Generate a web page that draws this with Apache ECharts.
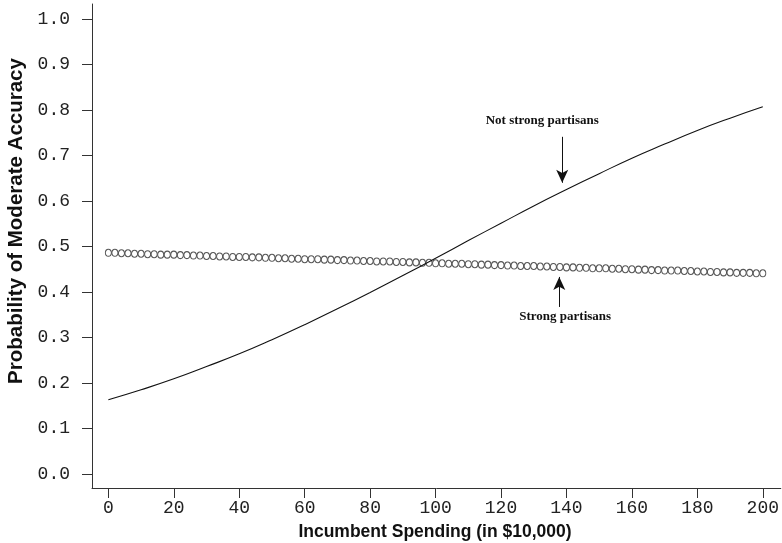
<!DOCTYPE html>
<html>
<head>
<meta charset="utf-8">
<script src="https://cdn.jsdelivr.net/npm/echarts@6/dist/echarts.min.js"></script>
<style>
  html, body { margin: 0; padding: 0; background: #fff; }
  #main { width: 782px; height: 543px; }
</style>
</head>
<body>
<div id="main"></div>
<script>
// spending (in $10,000) for the solid curve
const spendingCoarse = [0, 10, 20, 30, 40, 50, 60, 70, 80, 90, 100, 110, 120, 130, 140, 150, 160, 170, 180, 190, 200];
const notStrongValues = [0.163, 0.185, 0.209, 0.236, 0.264, 0.295, 0.328, 0.363, 0.399, 0.436, 0.474,
  0.513, 0.551, 0.589, 0.625, 0.660, 0.694, 0.725, 0.755, 0.782, 0.807];

// spending for the circle series
const spendingFine = [0, 2, 4, 6, 8, 10, 12, 14, 16, 18, 20, 22, 24, 26, 28, 30, 32, 34, 36, 38, 40,
  42, 44, 46, 48, 50, 52, 54, 56, 58, 60, 62, 64, 66, 68, 70, 72, 74, 76, 78, 80,
  82, 84, 86, 88, 90, 92, 94, 96, 98, 100, 102, 104, 106, 108, 110, 112, 114, 116, 118, 120,
  122, 124, 126, 128, 130, 132, 134, 136, 138, 140, 142, 144, 146, 148, 150, 152, 154, 156, 158, 160,
  162, 164, 166, 168, 170, 172, 174, 176, 178, 180, 182, 184, 186, 188, 190, 192, 194, 196, 198, 200];
const strongValues = [0.486, 0.486, 0.485, 0.485, 0.484, 0.484, 0.483, 0.483, 0.482, 0.482, 0.482,
  0.481, 0.481, 0.480, 0.480, 0.479, 0.479, 0.478, 0.478, 0.477, 0.477,
  0.477, 0.476, 0.476, 0.475, 0.475, 0.474, 0.474, 0.473, 0.473, 0.472,
  0.472, 0.472, 0.471, 0.471, 0.470, 0.470, 0.469, 0.469, 0.468, 0.468,
  0.467, 0.467, 0.467, 0.466, 0.466, 0.465, 0.465, 0.464, 0.464, 0.463,
  0.463, 0.462, 0.462, 0.462, 0.461, 0.461, 0.460, 0.460, 0.459, 0.459,
  0.458, 0.458, 0.457, 0.457, 0.457, 0.456, 0.456, 0.455, 0.455, 0.454,
  0.454, 0.453, 0.453, 0.452, 0.452, 0.452, 0.451, 0.451, 0.450, 0.450,
  0.449, 0.449, 0.448, 0.448, 0.447, 0.447, 0.447, 0.446, 0.446, 0.445,
  0.445, 0.444, 0.444, 0.443, 0.443, 0.442, 0.442, 0.442, 0.441, 0.441];

const xTicks = [0, 20, 40, 60, 80, 100, 120, 140, 160, 180, 200];
const yTicks = [0, 0.1, 0.2, 0.3, 0.4, 0.5, 0.6, 0.7, 0.8, 0.9, 1.0];

// annotations: [label, text x, text y, arrow x, arrow from y, arrow to y]
const notStrongNote = ['Not strong partisans', 132.6, 0.776, 138.7, 0.741, 0.640];
const strongNote = ['Strong partisans', 139.6, 0.345, 137.8, 0.367, 0.433];

const ink = '#111';
const tickFont = { fontFamily: 'Liberation Mono', fontSize: 18, color: '#222' };
const noteFont = { fontFamily: 'Liberation Serif', fontSize: 13, fontWeight: 'bold', color: ink };

const chart = echarts.init(document.getElementById('main'));

function note(n) {
  return {
    markPoint: {
      silent: true,
      symbol: 'circle',
      symbolSize: 0,
      data: [{ coord: [n[1], n[2]], value: n[0] }],
      label: Object.assign({ show: true, position: 'inside', formatter: '{c}' }, noteFont)
    },
    markLine: {
      silent: true,
      symbol: ['none', 'arrow'],
      symbolSize: [9, 13],
      label: { show: false },
      lineStyle: { color: ink, width: 1, type: 'solid' },
      data: [[{ coord: [n[3], n[4]] }, { coord: [n[3], n[5]] }]]
    }
  };
}

const option = {
  animation: false,
  backgroundColor: '#fff',
  grid: { left: 92, right: 0, top: 4, bottom: 55 },
  xAxis: {
    type: 'value',
    min: -5,
    max: 205.5,
    axisLine: { onZero: false, lineStyle: { color: '#333', width: 1 } },
    axisTick: { customValues: xTicks, length: 10, lineStyle: { color: '#333' } },
    axisLabel: Object.assign({ customValues: xTicks, margin: 11 }, tickFont),
    splitLine: { show: false }
  },
  yAxis: {
    type: 'value',
    min: -0.031,
    max: 1.033,
    axisLine: { show: true, onZero: false, lineStyle: { color: '#333', width: 1 } },
    axisTick: { show: true, customValues: yTicks, length: 10, lineStyle: { color: '#333' } },
    axisLabel: Object.assign({ customValues: yTicks, margin: 22, formatter: v => v.toFixed(1) }, tickFont),
    splitLine: { show: false }
  },
  graphic: [
    {
      type: 'text', x: 16, y: 221, rotation: Math.PI / 2,
      style: { text: 'Probability of Moderate Accuracy', font: 'bold 20.5px "Liberation Sans"', fill: '#111', align: 'center', verticalAlign: 'middle' }
    },
    {
      type: 'text', x: 435, y: 532,
      style: { text: 'Incumbent Spending (in $10,000)', font: 'bold 17.5px "Liberation Sans"', fill: '#111', align: 'center', verticalAlign: 'middle' }
    }
  ],
  series: [
    Object.assign({
      name: 'Not strong partisans',
      type: 'line',
      smooth: true,
      showSymbol: false,
      lineStyle: { color: ink, width: 1.1 },
      data: spendingCoarse.map((x, i) => [x, notStrongValues[i]])
    }, note(notStrongNote)),
    Object.assign({
      name: 'Strong partisans',
      type: 'scatter',
      symbol: 'circle',
      symbolSize: [6, 7],
      itemStyle: { color: '#fff', borderColor: '#2a2a2a', borderWidth: 1 },
      data: spendingFine.map((x, i) => [x, strongValues[i]])
    }, note(strongNote))
  ]
};

chart.setOption(option);
</script>
</body>
</html>
